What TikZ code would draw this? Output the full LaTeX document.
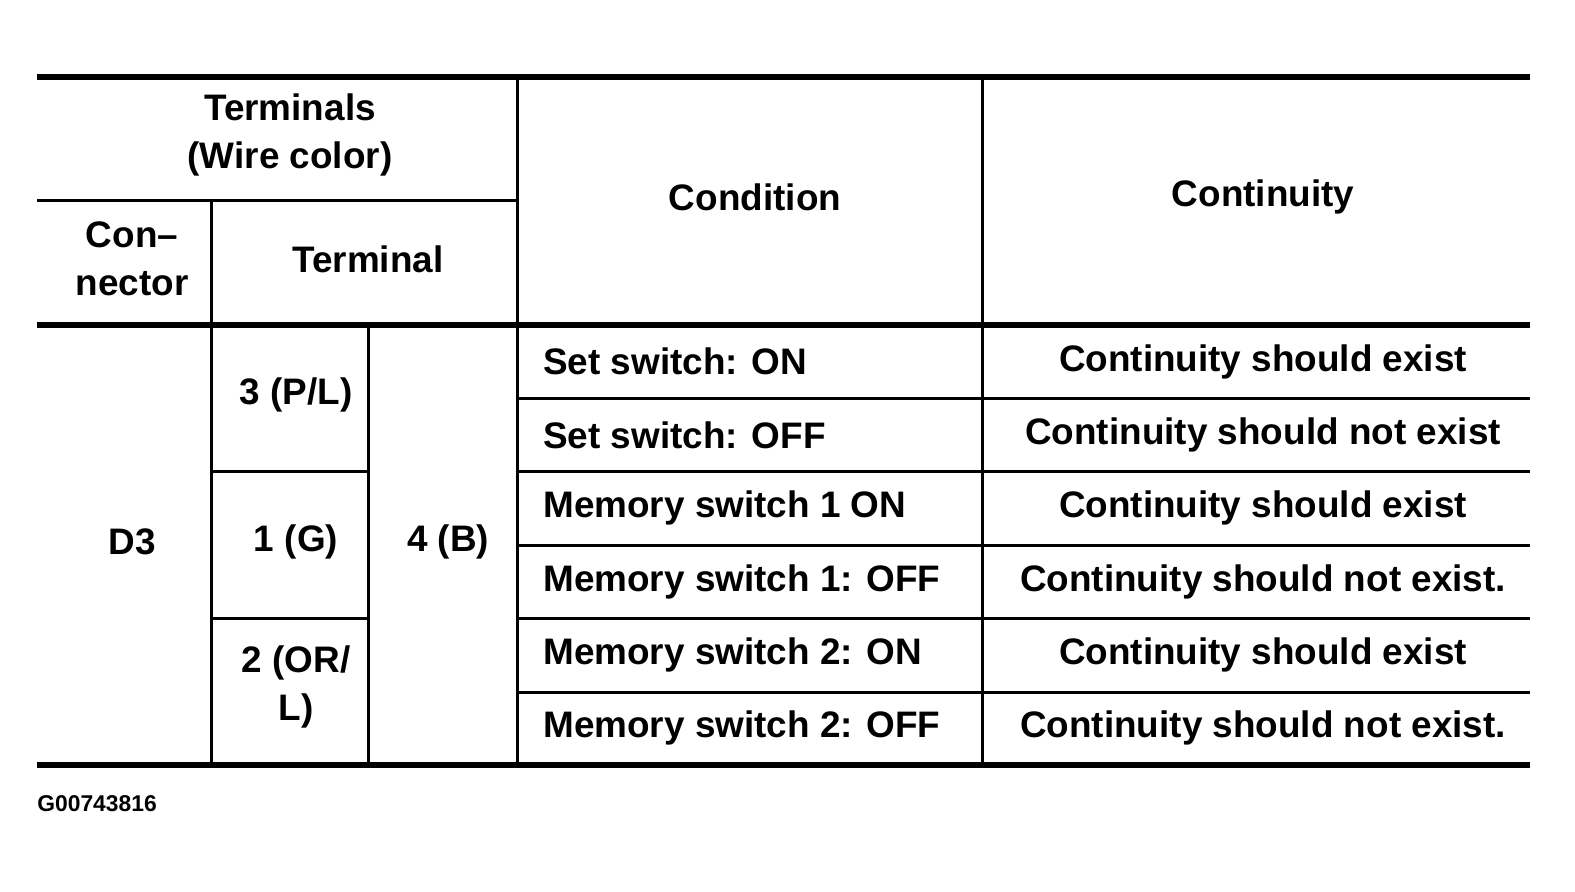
\documentclass[tikz,border=0pt]{standalone}
\usepackage{fontspec}
\setmainfont{Liberation Sans}
\usetikzlibrary{positioning}
\begin{document}
\begin{tikzpicture}[x=0.02cm,y=-0.02cm,
    cell/.style={font=\fontsize{21}{27}\selectfont\bfseries, align=center, inner sep=0pt},
    lcell/.style={cell, anchor=west},
    rule/.style={line width=0.06cm},
    thickrule/.style={line width=0.11cm}]
    \useasboundingbox (0,0) rectangle (1575,892);
    % outer rules
    \draw[thickrule] (37,77) -- (1530,77);
    \draw[thickrule] (37,325) -- (1530,325);
    \draw[thickrule] (37,765) -- (1530,765);
    \draw[rule] (37,200) -- (517,200);
    % columns
    \draw[rule] (211,200) -- (211,765);
    \draw[rule] (368,325) -- (368,765);
    \draw[rule] (517,77) -- (517,765);
    \draw[rule] (982,77) -- (982,765);
    % rows
    \foreach \y in {398,471,545,618,692}
        \draw[rule] (517,\y) -- (1530,\y);
    \foreach \y in {471,618}
        \draw[rule] (211,\y) -- (368,\y);

    % header
    \node[cell] (term) at (290,135) {Terminals\\(Wire color)};
    \node[cell] (cond) at (755,197) {Condition};
    \node[cell] (cont) at (1263,197) {Continuity};
    \node[cell] (conn) at (132,259) {Con--\\nector};
    \node[cell] (tnum) at (368,259) {Terminal};

    % body
    \node[cell] (d3) at (132,542) {D3};
    \node[cell] (t3) at (296,395) {3 (P/L)};
    \node[cell] (t1) at (296,542) {1 (G)};
    \node[cell] (t2) at (296,687) {2 (OR/\\L)};
    \node[cell] (t4) at (448,542) {4 (B)};

    \foreach \c/\r [count=\i] in {Set switch: ON/Continuity should exist,
        Set switch: OFF/Continuity should not exist,
        Memory switch 1 ON/Continuity should exist,
        Memory switch 1: OFF/Continuity should not exist.,
        Memory switch 2: ON/Continuity should exist,
        Memory switch 2: OFF/Continuity should not exist.} {
        \pgfmathsetmacro{\yy}{325+73.3*(\i-0.5)}
        \node[lcell] (c\i) at (543,\yy) {\c};
        \node[cell] (r\i) at (1263,\yy) {\r};
    }

    \node[anchor=west, inner sep=0pt, font=\fontsize{13}{15}\selectfont\bfseries] (code) at (37,804) {G00743816};
\end{tikzpicture}
\end{document}
